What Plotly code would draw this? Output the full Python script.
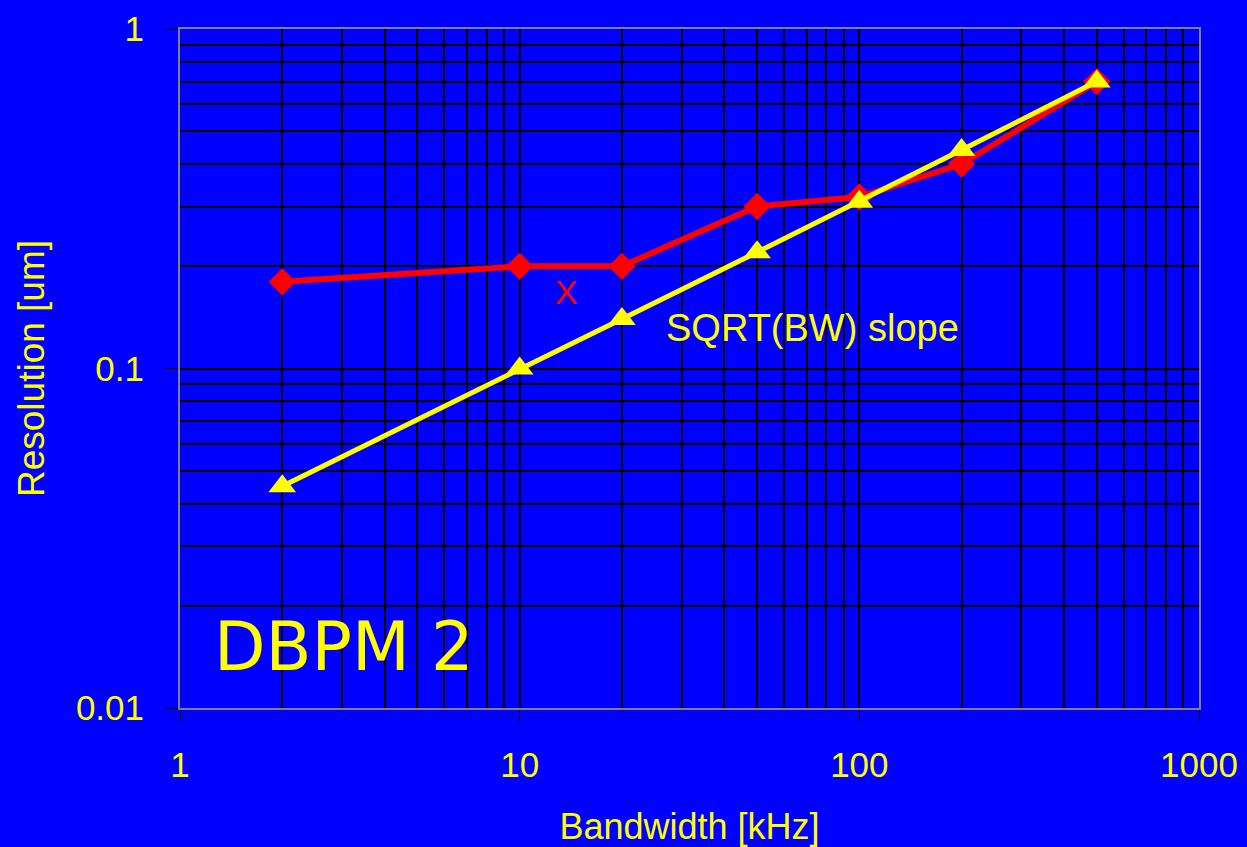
import plotly.graph_objects as go

# Data
bandwidth_khz = [2, 10, 20, 50, 100, 200, 500]
measured_um = [0.18, 0.20, 0.20, 0.30, 0.32, 0.40, 0.70]
sqrt_slope_um = [0.045, 0.10, 0.14, 0.22, 0.31, 0.44, 0.70]

# labelled decades
x_decades = [1, 10, 100, 1000]
x_decade_text = ["1", "10", "100", "1000"]
y_decades = [0.01, 0.1, 1]
y_decade_text = ["0.01", "0.1", "1"]

# gridlines at every 1..9 step of each decade (labels only on decades)
x_grid_vals = [m * 10 ** d for d in range(0, 3) for m in range(1, 10)] + [1000]
y_grid_vals = [m * 10 ** d for d in range(-2, 0) for m in range(1, 10)] + [1]
x_grid_text = [x_decade_text[x_decades.index(v)] if v in x_decades else "" for v in x_grid_vals]
y_grid_text = [y_decade_text[y_decades.index(v)] if v in y_decades else "" for v in y_grid_vals]

BLUE = "#0000FF"
YELLOW = "#FFFF00"
RED = "#FF0000"
FONT = "Liberation Sans, Arial, sans-serif"

fig = go.Figure()
fig.add_trace(go.Scatter(
    x=bandwidth_khz, y=measured_um, mode="lines+markers",
    line=dict(color=RED, width=6),
    marker=dict(symbol="diamond", size=21, color=RED),
    showlegend=False, name="DBPM 2",
))
fig.add_trace(go.Scatter(
    x=bandwidth_khz, y=sqrt_slope_um, mode="lines+markers",
    line=dict(color=YELLOW, width=5),
    marker=dict(symbol="triangle-up", size=24, color=YELLOW),
    showlegend=False, name="SQRT(BW) slope",
))

axis_common = dict(
    type="log",
    showgrid=True, gridcolor="black", gridwidth=1.6,
    showline=True, linecolor="#808080", linewidth=2, mirror=True,
    ticks="",
    tickfont=dict(family=FONT, size=35, color=YELLOW),
    zeroline=False,
    automargin=False,
)

fig.update_xaxes(
    **axis_common, range=[0, 3], tickmode="array", tickvals=x_grid_vals, ticktext=x_grid_text,
    ticklabelstandoff=25,
    minor=dict(tickmode="array", tickvals=x_decades, ticks="outside", ticklen=12,
               tickcolor="black", tickwidth=1, showgrid=False),
    title=dict(text="Bandwidth [kHz]", font=dict(family=FONT, size=36, color=YELLOW), standoff=35),
)
fig.update_yaxes(
    **axis_common, range=[-2, 0], tickmode="array", tickvals=y_grid_vals, ticktext=y_grid_text,
    ticklabelstandoff=27,
    minor=dict(tickmode="array", tickvals=y_decades, ticks="outside", ticklen=13,
               tickcolor="black", tickwidth=1, showgrid=False),
    title=dict(text="Resolution [um]", font=dict(family=FONT, size=37, color=YELLOW), standoff=20),
)

fig.add_annotation(x=0.161, y=0.09, xref="paper", yref="paper", text="DBPM 2",
                   xanchor="center", yanchor="middle",
                   showarrow=False, font=dict(family="DejaVu Sans", size=67, color=YELLOW))
fig.add_annotation(x=0.379, y=0.612, xref="paper", yref="paper", text="X",
                   xanchor="center", yanchor="middle",
                   showarrow=False, font=dict(family=FONT, size=34, color=RED))
fig.add_annotation(x=0.621, y=0.559, xref="paper", yref="paper", text="SQRT(BW) slope",
                   xanchor="center", yanchor="middle",
                   showarrow=False, font=dict(family=FONT, size=38, color=YELLOW))

fig.update_layout(
    width=1247, height=847,
    margin=dict(l=180, r=48, t=29, b=139),
    paper_bgcolor=BLUE, plot_bgcolor=BLUE,
    font=dict(family=FONT, color=YELLOW),
)

fig.write_html(
    "out.html",
    config={"displayModeBar": False},
    post_script="document.body.style.margin='0';document.body.style.background='#0000FF';",
)
